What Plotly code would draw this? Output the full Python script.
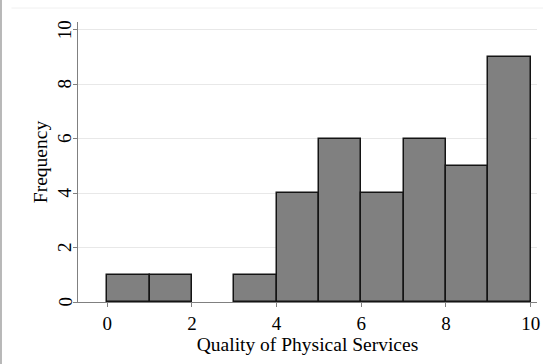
import plotly.graph_objects as go

# Histogram of quality ratings, unit-width bins from 0 to 10
bin_left = [0, 1, 2, 3, 4, 5, 6, 7, 8, 9]
frequency = [1, 1, 0, 1, 4, 6, 4, 6, 5, 9]
x_ticks = [0, 2, 4, 6, 8, 10]
y_ticks = [0, 2, 4, 6, 8, 10]

serif = "Liberation Serif"
font_black = dict(family=serif, size=19, color="black")

# empty bins get no outline
outline_w = [1.5 if f > 0 else 0 for f in frequency]

fig = go.Figure(
    go.Bar(
        x=[b + 0.5 for b in bin_left],
        y=frequency,
        width=1,
        marker=dict(color="#808080", line=dict(color="#141414", width=outline_w)),
        hoverinfo="x+y",
    )
)

# rotated y tick labels sit close to the axis, Stata style
y_labels = [
    dict(x=0, y=v, xref="paper", yref="y", xanchor="right", yanchor="middle",
         xshift=-1, text=str(v), textangle=-90, showarrow=False, font=font_black)
    for v in y_ticks
]

fig.update_layout(
    template="none",
    width=543,
    height=364,
    margin=dict(l=78, r=6, t=22, b=62),
    paper_bgcolor="white",
    plot_bgcolor="white",
    showlegend=False,
    bargap=0,
    font=font_black,
    xaxis=dict(
        range=[-0.69, 10.15],
        tickmode="array",
        tickvals=x_ticks,
        ticks="outside",
        ticklen=4,
        tickcolor="#808080",
        showgrid=False,
        zeroline=False,
        showline=True,
        linecolor="#808080",
        linewidth=1,
        tickfont=font_black,
        title=dict(text="Quality of Physical Services",
                   font=dict(family=serif, size=19.5, color="black"), standoff=2),
    ),
    yaxis=dict(
        range=[0, 10.28],
        tickmode="array",
        tickvals=y_ticks,
        showticklabels=False,
        ticks="outside",
        ticklen=4,
        tickcolor="#808080",
        showgrid=True,
        gridcolor="#e8e8e8",
        gridwidth=1,
        zeroline=False,
        showline=True,
        linecolor="#808080",
        linewidth=1,
        title=dict(text="Frequency",
                   font=dict(family=serif, size=19.5, color="black"), standoff=20),
    ),
    annotations=y_labels,
    shapes=[
        dict(type="line", xref="paper", yref="paper", x0=-0.1678, x1=-0.1678,
             y0=-0.3, y1=1.2, line=dict(color="#b8b8b8", width=2)),
        dict(type="line", xref="paper", yref="paper", x0=-0.145, x1=1.02,
             y0=1.05, y1=1.05, line=dict(color="#f0f0f0", width=1)),
    ],
)

fig.write_html("out.html")
